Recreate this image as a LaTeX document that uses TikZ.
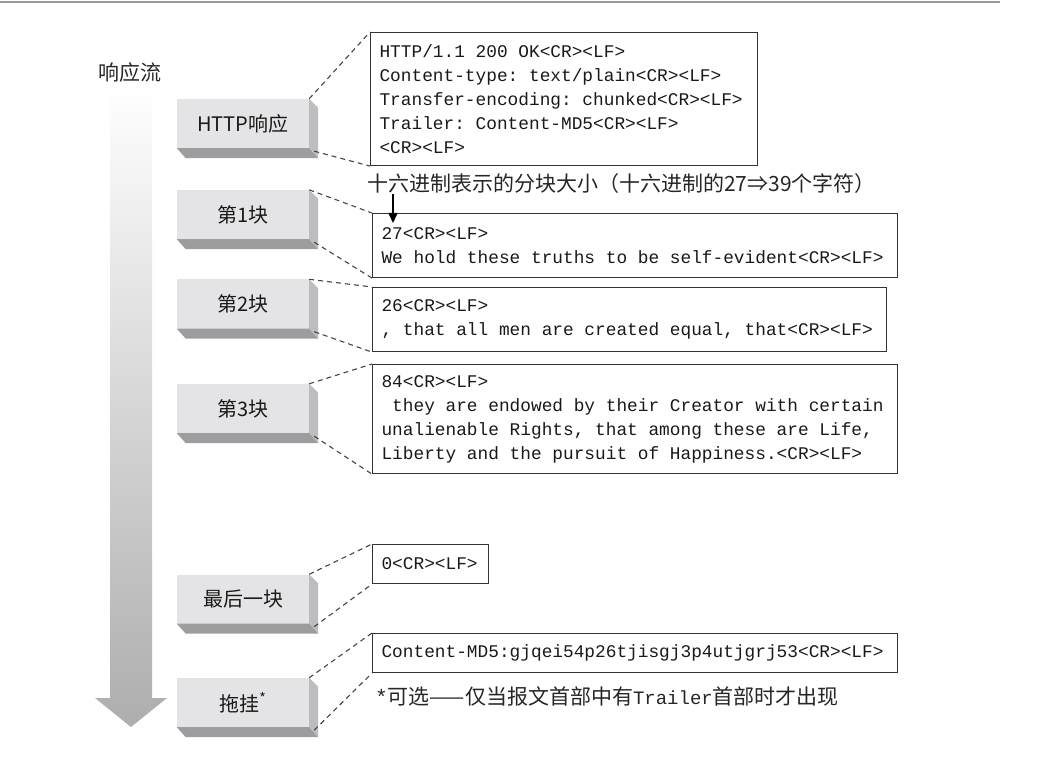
\documentclass[tikz,border=0pt]{standalone}
\usepackage{fontspec}
\setmainfont{Liberation Serif}
\newfontfamily\cjk{Noto Sans CJK SC}
\newfontfamily\mono{Liberation Mono}
\newcommand\monosetup{\mono\fontsize{17.8}{24}\selectfont}
\newcommand\SP{\hspace*{0.6em}}
\usetikzlibrary{arrows.meta}
\definecolor{facec}{HTML}{E4E4E6}
\definecolor{sidec}{HTML}{BDBDC0}
\definecolor{botc}{HTML}{9D9DA0}
\definecolor{edgec}{HTML}{333333}
\definecolor{dashc}{HTML}{444444}
\newcommand\drawslab[1]{%
  \fill[sidec] (#1.north east) -- ++(9,9) -- ([shift={(9,10)}]#1.south east) -- (#1.south east) -- cycle;
  \fill[botc] (#1.south west) -- (#1.south east) -- ([shift={(9,10)}]#1.south east) -- ([shift={(9,10)}]#1.south west) -- cycle;
}
\tikzset{
  blk/.style={fill=facec, minimum width=132, minimum height=49, inner sep=0,
    font={\cjk\fontsize{20}{24}\selectfont}, text=black!90},
  tb/.style={draw=edgec, line width=1.1pt, anchor=north west, inner xsep=9, inner ysep=0,
    align=left, font=\monosetup, text=black!90},
  cjkt/.style={inner sep=0, font={\cjk\fontsize{21}{24}\selectfont}, text=black!85},
  dsh/.style={draw=dashc, line width=1.1pt, dash pattern=on 5pt off 4pt}
}
\begin{document}
\begin{tikzpicture}[x=1pt,y=-1pt]
\useasboundingbox (0,0) rectangle (1044,759);
% top rule
\draw[line width=2pt, black!40] (0,2) -- (1000,2);
% flow label and big arrow
\node[cjkt] (flow) at (130,73) {响应流};
\shade[top color=white, bottom color=black!32]
  (110,85) -- (152,85) -- (152,698) -- (167,698) -- (131,727) -- (95,698) -- (110,698) -- cycle;
% blocks
\node[blk] (h) at (243,123.5) {HTTP响应};
\node[blk] (b1) at (243,214.5) {第1块};
\node[blk] (b2) at (243,304) {第2块};
\node[blk] (b3) at (243,408.5) {第3块};
\node[blk] (b4) at (243,599) {最后一块};
\node[blk] (b5) at (243,702.5) {拖挂\textsuperscript{*}};
\drawslab{h}\drawslab{b1}\drawslab{b2}\drawslab{b3}\drawslab{b4}\drawslab{b5}
% text boxes
\node[tb, text width=369, minimum height=133] (th) at (370,32)
  {HTTP/1.1\SP200\SP OK<CR><LF>\\Content-type:\SP text/plain<CR><LF>\\Transfer-encoding:\SP chunked<CR><LF>\\Trailer:\SP Content-MD5<CR><LF>\\<CR><LF>};
\node[tb, text width=507, minimum height=64] (c1) at (372,213)
  {27<CR><LF>\\We\SP hold\SP these\SP truths\SP to\SP be\SP self-evident<CR><LF>};
\node[tb, text width=496, minimum height=64] (c2) at (372,287)
  {26<CR><LF>\\,\SP that\SP all\SP men\SP are\SP created\SP equal,\SP that<CR><LF>};
\node[tb, text width=507, minimum height=109] (c3) at (372,364)
  {84<CR><LF>\\\SP they\SP are\SP endowed\SP by\SP their\SP Creator\SP with\SP certain\\unalienable\SP Rights,\SP that\SP among\SP these\SP are\SP Life,\\Liberty\SP and\SP the\SP pursuit\SP of\SP Happiness.<CR><LF>};
\node[tb, text width=98, minimum height=39] (c4) at (372,544) {0<CR><LF>};
\node[tb, text width=507, minimum height=39] (c5) at (372,633)
  {Content-MD5:gjqei54p26tjisgj3p4utjgrj53<CR><LF>};
% caption and arrow
\node[cjkt, anchor=west] (cap) at (367,184) {十六进制表示的分块大小（十六进制的27⇒39个字符）};
\coordinate (atip) at (393,223);
\draw[line width=1.6pt, -{Triangle[length=10pt,width=9pt]}] (cap.south -| atip) -- (atip);
% footnote
\node[cjkt, anchor=west] (fn) at (375,696)
  {{\mono *}可选——仅当报文首部中有{\mono\fontsize{19}{24}\selectfont Trailer}首部时才出现};
% dashed connectors
\draw[dsh] (h.north east) -- (th.north west);
\draw[dsh] ([shift={(5,3)}]h.south east) -- (th.south west);
\draw[dsh] (b1.north east) -- (c1.north west);
\draw[dsh] ([shift={(5,3)}]b1.south east) -- (c1.south west);
\draw[dsh] (b2.north east) -- (c2.north west);
\draw[dsh] ([shift={(5,3)}]b2.south east) -- (c2.south west);
\draw[dsh] (b3.north east) -- (c3.north west);
\draw[dsh] ([shift={(5,3)}]b3.south east) -- (c3.south west);
\draw[dsh] (b4.north east) -- (c4.north west);
\draw[dsh] ([shift={(5,3)}]b4.south east) -- (c4.south west);
\draw[dsh] (b5.north east) -- (c5.north west);
\draw[dsh] ([shift={(5,3)}]b5.south east) -- (c5.south west);
\end{tikzpicture}
\end{document}
